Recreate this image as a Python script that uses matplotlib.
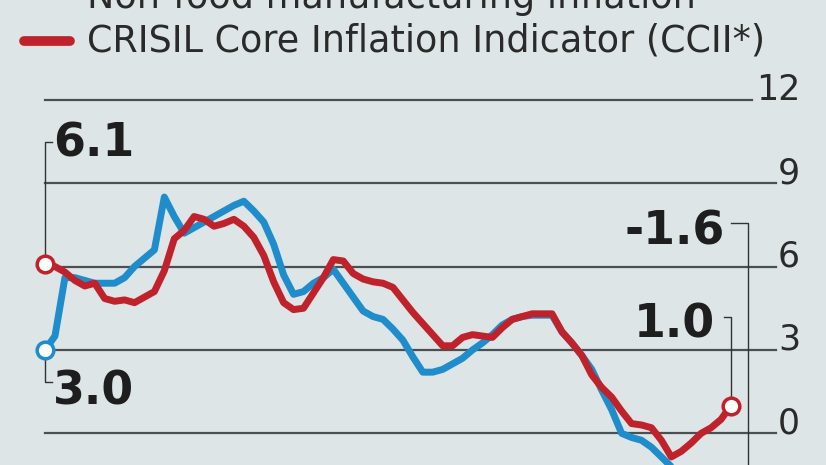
import numpy as np
import matplotlib
matplotlib.use("Agg")
import matplotlib.pyplot as plt

# data (monthly points)
non_food = [3.0, 3.5, 5.6, 5.6, 5.5, 5.4, 5.4, 5.4, 5.6, 6.0,
            6.3, 6.6, 8.5, 7.8, 7.2, 7.4, 7.6, 7.8, 8.0, 8.2,
            8.35, 8.0, 7.6, 6.8, 5.7, 5.0, 5.1, 5.4, 5.6, 5.9,
            5.4, 4.9, 4.4, 4.2, 4.1, 3.75, 3.35, 2.75, 2.2, 2.2,
            2.3, 2.5, 2.7, 3.0, 3.25, 3.55, 3.9, 4.1, 4.2, 4.25,
            4.25, 4.25, 3.65, 3.25, 2.8, 2.3, 1.55, 0.85, 0.0, -0.15,
            -0.25, -0.5, -0.85, -1.2, -1.4, -1.6, -1.9, -2.0, -1.8, -1.6]
ccii = [6.1, 6.0, 5.8, 5.5, 5.3, 5.4, 4.85, 4.75, 4.8, 4.7,
        4.9, 5.1, 5.85, 7.0, 7.3, 7.8, 7.7, 7.45, 7.55, 7.7,
        7.45, 7.05, 6.4, 5.45, 4.7, 4.45, 4.5, 5.05, 5.6, 6.25,
        6.2, 5.75, 5.55, 5.45, 5.4, 5.25, 4.8, 4.35, 3.95, 3.55,
        3.15, 3.15, 3.45, 3.55, 3.5, 3.45, 3.8, 4.1, 4.2, 4.3,
        4.3, 4.3, 3.65, 3.25, 2.8, 2.1, 1.65, 1.3, 0.8, 0.35,
        0.3, 0.2, -0.25, -0.85, -0.65, -0.35, 0.0, 0.2, 0.5, 1.0]
y_ticks = [12, 9, 6, 3, 0]
labels = ["Non-food manufacturing inflation",
          "CRISIL Core Inflation Indicator (CCII*)"]

BG = "#dde5e6"
BLUE = "#1f8ccb"
RED = "#c0222b"
GRID = "#4a4f52"
TXT = "#1e1e1e"

fig = plt.figure(figsize=(8.26, 4.65), dpi=100, facecolor=BG)
ax = fig.add_axes([0, 0, 1, 1], facecolor=BG)
ax.set_xlim(-4.53, 78.56)
ax.set_ylim(-1.14, 15.59)
ax.axis("off")

x = np.arange(len(ccii))

# grid lines with labels at the right end
for t in y_ticks:
    end = 71.1 if t == 12 else 73.5
    ax.plot([0, end], [t, t], color=GRID, lw=1.6, zorder=1)
    ax.text(75.95, t, str(t), ha="right", va="baseline", fontsize=25,
            color="#2a2a2a", zorder=2)

# the two series
ax.plot(x, non_food, color=BLUE, lw=5, solid_joinstyle="round",
        solid_capstyle="round", zorder=3)
ax.plot(x, ccii, color=RED, lw=5, solid_joinstyle="round",
        solid_capstyle="round", zorder=4)

for s, c in [(non_food, BLUE), (ccii, RED)]:
    ax.plot([x[0], x[-1]], [s[0], s[-1]], "o", ms=12, mfc="white",
            mec=c, mew=2.5, zorder=5, ls="none")

# bracket callouts
bk = dict(color="#333333", lw=1, zorder=2)
ax.plot([0.7, 0, 0], [10.48, 10.48, ccii[0]], **bk)
ax.plot([0, 0, 0.7], [non_food[0], 1.85, 1.85], **bk)
ax.plot([68.3, 69, 69], [4.18, 4.18, ccii[-1]], **bk)
ax.plot([69, 70.7, 70.7, 69], [7.57, 7.57, non_food[-1], non_food[-1]], **bk)

big = dict(fontsize=33, fontweight="bold", color=TXT, va="baseline", zorder=6)
ax.text(0.8, 9.95, f"{ccii[0]:.1f}", ha="left", **big)
ax.text(0.8, 1.02, f"{non_food[0]:.1f}", ha="left", **big)
ax.text(67.4, 3.43, f"{ccii[-1]:.1f}", ha="right", **big)
ax.text(68.4, 6.8, f"{non_food[-1]:.1f}", ha="right", **big)

# legend, top line is cut by the frame like in the original
W, H = 826, 465
for i, (lab, c) in enumerate(zip(labels, [BLUE, RED])):
    yc = -2 + 43 * i
    fig.add_artist(plt.Line2D([24 / W, 70 / W], [1 - yc / H, 1 - yc / H],
                              color=c, lw=7, solid_capstyle="round"))
    fig.text(87 / W, 1 - (yc + 10) / H, lab, fontsize=26.3, color="#2a2a2a",
             ha="left", va="baseline")

fig.savefig("out.png", dpi=100, facecolor=BG)
